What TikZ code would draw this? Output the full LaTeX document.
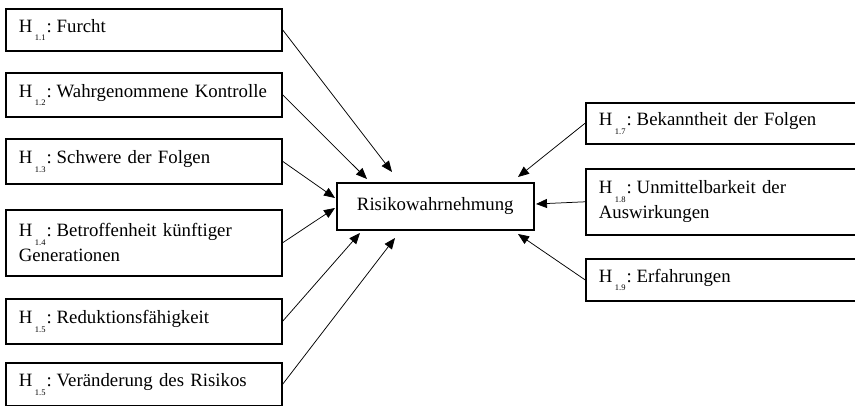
\documentclass[tikz,border=0pt]{standalone}
\usepackage{fontspec}
\setmainfont{Liberation Serif}
\usetikzlibrary{arrows.meta}
\newcommand{\hsub}[1]{H\hspace{2.5pt}\raisebox{-8.5pt}{\fontsize{8.5}{9}\selectfont #1}\hspace{1pt}:\hspace{5pt}}
\begin{document}
\begin{tikzpicture}[x=1pt,y=-1pt,
  hbox/.style={draw, line width=1.6pt, anchor=north west, inner xsep=13pt, inner ysep=0pt,
    align=left, font=\fontsize{18.8}{25}\selectfont},
  lbox/.style={hbox, minimum width=276pt, text width=250pt},
  rbox/.style={hbox, minimum width=290pt, text width=264pt},
  cbox/.style={draw, line width=1.6pt, anchor=north west, minimum width=197pt, minimum height=47pt,
    inner sep=0pt, font=\fontsize{18.8}{25}\selectfont},
  arr/.style={line width=0.75pt, -{Triangle[length=11pt,width=9pt]}}]
\useasboundingbox (0,0) rectangle (855,406);
\clip (0,0) rectangle (855,406);
% left boxes
\node[lbox, minimum height=42pt] (b1) at (5,8) {\mbox{\hsub{1.1}Furcht}};
\node[lbox, minimum height=44pt] (b2) at (5,72) {\mbox{\hsub{1.2}Wahrgenommene Kontrolle}};
\node[lbox, minimum height=45pt] (b3) at (5,138) {\mbox{\hsub{1.3}Schwere der Folgen}};
\node[lbox, minimum height=66pt] (b4) at (5,209) {\mbox{\hsub{1.4}Betroffenheit künftiger}\\Generationen};
\node[lbox, minimum height=45pt] (b5) at (5,298) {\mbox{\hsub{1.5}Reduktionsfähigkeit}};
\node[lbox, minimum height=43pt] (b6) at (5,362) {\mbox{\hsub{1.5}Veränderung des Risikos}};
% centre
\node[cbox] (c) at (336,182) {Risikowahrnehmung};
% right boxes
\node[rbox, minimum height=41pt] (b7) at (585,102) {\mbox{\hsub{1.7}Bekanntheit der Folgen}};
\node[rbox, minimum height=66pt] (b8) at (585,168) {\mbox{\hsub{1.8}Unmittelbarkeit der}\\Auswirkungen};
\node[rbox, minimum height=42pt] (b9) at (585,258) {\mbox{\hsub{1.9}Erfahrungen}};
% arrow tips
\coordinate (t1) at (392,172);
\coordinate (t2) at (367,179);
\coordinate (t3) at (335,198);
\coordinate (t4) at (335,208);
\coordinate (t5) at (360,233);
\coordinate (t6) at (395,238);
\coordinate (t7) at (518,177);
\coordinate (t8) at (536,204);
\coordinate (t9) at (518,234);
\draw[arr] (b1.east) -- (t1);
\draw[arr] (b2.east) -- (t2);
\draw[arr] (b3.east) -- (t3);
\draw[arr] (b4.east) -- (t4);
\draw[arr] (b5.east) -- (t5);
\draw[arr] (b6.east) -- (t6);
\draw[arr] (b7.west) -- (t7);
\draw[arr] (b8.west) -- (t8);
\draw[arr] (b9.west) -- (t9);
\end{tikzpicture}
\end{document}
